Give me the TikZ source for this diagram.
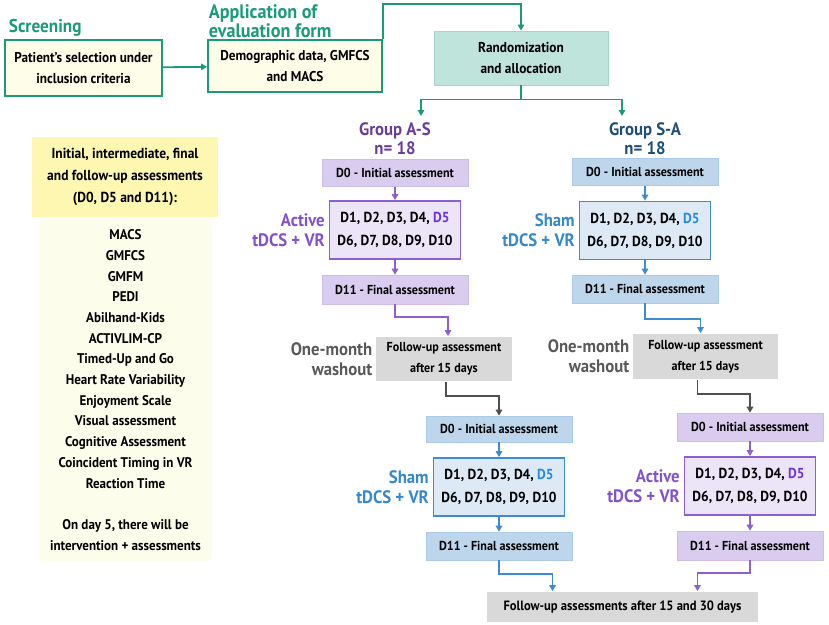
\documentclass[tikz,border=0pt]{standalone}
\usepackage{fontspec}
\setmainfont{PT Sans}[FakeStretch=0.93]
\usetikzlibrary{arrows.meta}
\definecolor{tealc}{RGB}{27,154,122}
\definecolor{creamc}{RGB}{253,253,232}
\definecolor{randfill}{RGB}{191,228,219}
\definecolor{randline}{RGB}{160,215,200}
\definecolor{grpA}{RGB}{106,61,154}
\definecolor{actc}{RGB}{130,82,204}
\definecolor{dfivep}{RGB}{110,50,225}
\definecolor{purfill}{RGB}{218,204,238}
\definecolor{purlight}{RGB}{236,228,247}
\definecolor{purline}{RGB}{140,95,210}
\definecolor{grpB}{RGB}{31,78,121}
\definecolor{shamc}{RGB}{52,136,204}
\definecolor{dfiveb}{RGB}{40,135,230}
\definecolor{bluefill}{RGB}{189,214,236}
\definecolor{bluelight}{RGB}{221,234,246}
\definecolor{blueline}{RGB}{61,139,208}
\definecolor{grayfill}{RGB}{217,217,217}
\definecolor{grayarrow}{RGB}{80,80,80}
\definecolor{washc}{RGB}{88,89,91}
\definecolor{hdrfill}{RGB}{253,247,178}
\definecolor{listfill}{RGB}{253,253,235}
\begin{document}
\begin{tikzpicture}[>={Triangle[length=6pt,width=6.5pt]},x=1pt,y=-1pt,line width=1.8pt,
	txt/.style={font=\bfseries\fontsize{13}{21}\selectfont,align=center,inner sep=0pt},
	cbox/.style={txt,draw=tealc,fill=creamc,font=\bfseries\fontsize{14.2}{21}\selectfont},
	pbox/.style={txt,fill=purfill,draw=purfill!85!purline,line width=0.6pt,minimum width=146,minimum height=27},
	pday/.style={txt,fill=purlight,draw=purline,minimum width=131,minimum height=58,font=\bfseries\fontsize{14.5}{21}\selectfont},
	bbox/.style={txt,fill=bluefill,draw=bluefill!85!blueline,line width=0.6pt,minimum width=146,minimum height=27},
	bday/.style={txt,fill=bluelight,draw=blueline,minimum width=131,minimum height=58,font=\bfseries\fontsize{14.5}{21}\selectfont},
	gbox/.style={txt,fill=grayfill},
	lbl/.style={font=\bfseries\fontsize{18}{20}\selectfont,inner sep=0pt}]
	\useasboundingbox (0,0) rectangle (829,624);

	% screening and evaluation
	\node[lbl,text=tealc,anchor=base west,font=\bfseries\fontsize{18.5}{20}\selectfont] (scrtitle) at (8,32) {Screening};
	\node[cbox,minimum width=157,minimum height=56] (screen) at (83.5,68) {Patient's selection under\\inclusion criteria};
	\node[lbl,text=tealc,align=left,anchor=west,font=\bfseries\fontsize{19.5}{16.5}\selectfont] (evaltitle) at (208,21) {Application of\\evaluation form};
	\node[cbox,minimum width=174,minimum height=52] (eval) at (295,66) {Demographic data, GMFCS\\and MACS};
	\node[txt,fill=randfill,draw=randline,line width=0.8pt,minimum width=174,minimum height=54,font=\bfseries\fontsize{14.3}{21}\selectfont] (rand) at (521,58) {Randomization\\and allocation};
	\draw[tealc,->] (screen) -- (eval);
	\draw[tealc,->] (eval.north east) -- ++(0,-35) -| (rand.north);
	\coordinate (toA) at (421,116);
	\coordinate (toB) at (622,116);
	\draw[tealc,->] (rand.south) -- ++(0,14) -| (toA);
	\draw[tealc,->] (rand.south) -- ++(0,14) -| (toB);

	% assessments panel
	\node[txt,fill=hdrfill,minimum width=186,minimum height=80,font=\bfseries\fontsize{14.5}{22}\selectfont] (hdr) at (125,177) {Initial, intermediate, final\\and follow-up assessments\\(D0, D5 and D11):};
	\node[txt,fill=listfill,minimum width=173,minimum height=342,font=\bfseries\fontsize{14}{20.7}\selectfont] (list) at (125.5,390) {MACS\\GMFCS\\GMFM\\PEDI\\Abilhand-Kids\\ACTIVLIM-CP\\Timed-Up and Go\\Heart Rate Variability\\Enjoyment Scale\\Visual assessment\\Cognitive Assessment\\Coincident Timing in VR\\Reaction Time\\[20.7pt]On day 5, there will be\\intervention + assessments};

	% group A-S, first period
	\node[lbl,text=grpA,align=center,font=\bfseries\fontsize{18}{19}\selectfont] (grpa) at (395,139) {Group A-S\\n= 18};
	\node[pbox] (d0a) at (395,173) {D0 - Initial assessment};
	\node[pday] (d1a) at (395,230) {D1, D2, D3, D4, \textcolor{dfivep}{D5}\\[2pt]D6, D7, D8, D9, D10};
	\node[pbox,minimum height=29] (d11a) at (395,289.5) {D11 - Final assessment};
	\node[lbl,text=actc,align=right,anchor=east] (acta) at ([xshift=-3pt]d1a.west) {Active\\tDCS + VR};
	\node[gbox,minimum width=136,minimum height=44] (fua) at (444,359) {Follow-up assessment\\after 15 days};
	\node[lbl,text=washc,align=right,anchor=east] (washa) at ([xshift=-2pt]fua.west) {One-month\\washout};
	\draw[purline,->] (d0a) -- (d1a);
	\draw[purline,->] (d1a) -- (d11a);
	\draw[purline,->] (d11a.south) -- ++(0,13) -| ([xshift=4pt]fua.north);

	% group S-A, first period
	\node[lbl,text=grpB,align=center,font=\bfseries\fontsize{18}{19}\selectfont] (grpb) at (645,139) {Group S-A\\n= 18};
	\node[bbox] (d0b) at (645,172) {D0 - Initial assessment};
	\node[bday] (d1b) at (645,230.5) {D1, D2, D3, D4, \textcolor{dfiveb}{D5}\\[2pt]D6, D7, D8, D9, D10};
	\node[bbox,minimum height=28] (d11b) at (645,289) {D11 - Final assessment};
	\node[lbl,text=shamc,align=right,anchor=east] (shamb) at ([xshift=-3pt]d1b.west) {Sham\\tDCS + VR};
	\node[gbox,minimum width=145,minimum height=45] (fub) at (705.5,356.5) {Follow-up assessment\\after 15 days};
	\node[lbl,text=washc,align=right,anchor=east] (washb) at ([xshift=-2pt]fub.west) {One-month\\washout};
	\draw[blueline,->] (d0b) -- (d1b);
	\draw[blueline,->] (d1b) -- (d11b);
	\draw[blueline,->] (d11b.south) -- ++(0,16) -| ([xshift=-5pt]fub.north);

	% crossover, second period
	\node[bbox,minimum height=26] (d0c) at (499,429) {D0 - Initial assessment};
	\node[bday] (d1c) at (499,487) {D1, D2, D3, D4, \textcolor{dfiveb}{D5}\\[2pt]D6, D7, D8, D9, D10};
	\node[bbox,minimum height=28] (d11c) at (499,546) {D11 - Final assessment};
	\node[lbl,text=shamc,align=right,anchor=east] (shamc) at ([xshift=-3pt]d1c.west) {Sham\\tDCS + VR};
	\node[pbox,minimum height=28] (d0d) at (750,427) {D0 - Initial assessment};
	\node[pday] (d1d) at (750,486) {D1, D2, D3, D4, \textcolor{dfivep}{D5}\\[2pt]D6, D7, D8, D9, D10};
	\node[pbox,minimum height=29] (d11d) at (750,545.5) {D11 - Final assessment};
	\node[lbl,text=actc,align=right,anchor=east] (actd) at ([xshift=-3pt]d1d.west) {Active\\tDCS + VR};
	\node[gbox,minimum width=271,minimum height=30,font=\bfseries\fontsize{13.5}{21}\selectfont] (final) at (622.5,607) {Follow-up assessments after 15 and 30 days};
	\draw[grayarrow,->] ([xshift=2pt]fua.south) -- ++(0,14) -| (d0c.north);
	\draw[grayarrow,->] ([xshift=-8pt]fub.south) -- ++(0,14) -| (d0d.north);
	\draw[blueline,->] (d0c) -- (d1c);
	\draw[blueline,->] (d1c) -- (d11c);
	\draw[purline,->] (d0d) -- (d1d);
	\draw[purline,->] (d1d) -- (d11d);
	\draw[blueline,->] (d11c.south) -- ++(0,14) -| ([xshift=-70pt]final.north);
	\draw[purline,->] (d11d.south) -- ++(0,13) -| ([xshift=75pt]final.north);
\end{tikzpicture}
\end{document}
